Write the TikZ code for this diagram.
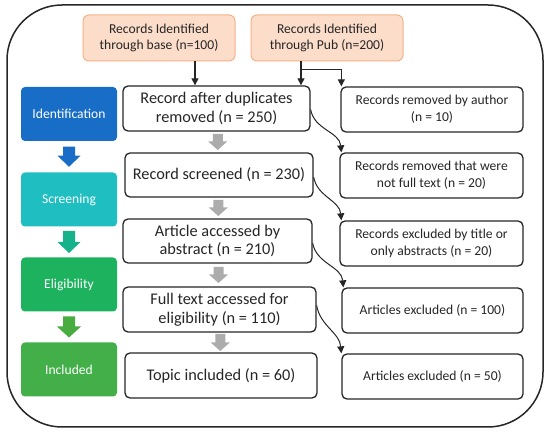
\documentclass[tikz,border=0pt]{standalone}
\usepackage{fontspec}
\setmainfont{Carlito}
\usetikzlibrary{calc,arrows.meta}
\definecolor{boxline}{RGB}{38,38,38}
\definecolor{txt}{RGB}{38,38,38}
\definecolor{orfill}{RGB}{252,221,202}
\definecolor{orline}{RGB}{244,178,135}
\definecolor{cident}{RGB}{24,110,198}
\definecolor{cscreen}{RGB}{31,190,193}
\definecolor{carrowtwo}{RGB}{22,178,140}
\definecolor{celig}{RGB}{28,178,94}
\definecolor{carrowthree}{RGB}{72,172,64}
\definecolor{cincl}{RGB}{66,175,73}
\definecolor{cgray}{RGB}{172,172,172}
% block arrow between two nodes: from, to, colour, half length, half shaft, half head, head length
\newcommand\blkarrow[7]{%
  \fill[#3] ($(#1.south)!0.5!(#2.north)+(-#5,#4)$) -- ($(#1.south)!0.5!(#2.north)+(#5,#4)$)
    -- ($(#1.south)!0.5!(#2.north)+(#5,-#4+#7)$) -- ($(#1.south)!0.5!(#2.north)+(#6,-#4+#7)$)
    -- ($(#1.south)!0.5!(#2.north)+(0,-#4)$) -- ($(#1.south)!0.5!(#2.north)+(-#6,-#4+#7)$)
    -- ($(#1.south)!0.5!(#2.north)+(-#5,-#4+#7)$) -- cycle;}
\begin{document}
\begin{tikzpicture}[x=1pt,y=1pt,
  box/.style={draw=boxline,line width=1.3pt,rounded corners=5pt,fill=white,align=center,inner sep=1pt,text=txt},
  mid/.style={box,font=\fontsize{16.3}{18.5}\selectfont},
  side/.style={box,font=\fontsize{13.6}{16.8}\selectfont},
  src/.style={draw=orline,fill=orfill,line width=1pt,rounded corners=6pt,align=center,inner sep=1pt,text=txt,font=\fontsize{13.6}{16.8}\selectfont},
  stage/.style={rounded corners=4pt,text=white,inner sep=1pt,align=center,minimum width=96pt,minimum height=54pt,font=\fontsize{13.6}{16.8}\selectfont},
  arr/.style={-{Triangle[length=7pt,width=7pt]},line width=1.1pt,draw=boxline},
  carr/.style={arr,line width=1pt}
]
\useasboundingbox (0,0) rectangle (550,-433);
\node[draw=boxline,line width=1.5pt,rounded corners=55pt,minimum width=536pt,minimum height=422pt] (frame) at (275,-216) {};

\node[src,minimum width=152pt,minimum height=46pt] (o1) at (159,-38) {Records Identified\\through base (n=100)};
\node[src,minimum width=152pt,minimum height=46pt] (o2) at (327,-38) {Records Identified\\through Pub (n=200)};

\node[stage,fill=cident] (ident) at (69,-114) {Identification};
\node[stage,fill=cscreen] (screen) at (69,-199.5) {Screening};
\node[stage,fill=celig] (elig) at (69,-284.5) {Eligibility};
\node[stage,fill=cincl] (incl) at (69,-369.5) {Included};

\node[mid,minimum width=187pt,minimum height=45pt] (m1) at (216.5,-108.5) {Record after duplicates\\removed (n = 250)};
\node[mid,minimum width=188pt,minimum height=44pt] (m2) at (219,-175) {Record screened (n = 230)};
\node[mid,minimum width=189pt,minimum height=44pt] (m3) at (217.5,-241) {Article accessed by\\abstract (n = 210)};
\node[mid,minimum width=193pt,minimum height=45pt] (m4) at (219.5,-309.5) {Full text accessed for\\eligibility (n = 110)};
\node[mid,minimum width=192pt,minimum height=45pt] (m5) at (221,-375.5) {Topic included (n = 60)};

\node[side,minimum width=182pt,minimum height=45pt] (r1) at (432,-109.5) {Records removed by author\\(n = 10)};
\node[side,minimum width=183pt,minimum height=45pt] (r2) at (431.5,-175.5) {Records removed that were\\not full text (n = 20)};
\node[side,minimum width=183pt,minimum height=45pt] (r3) at (431.5,-243.5) {Records excluded by title or\\only abstracts (n = 20)};
\node[side,minimum width=181pt,minimum height=45pt] (r4) at (432.5,-310.5) {Articles excluded (n = 100)};
\node[side,minimum width=181pt,minimum height=45pt] (r5) at (432.5,-376.5) {Articles excluded (n = 50)};

% source arrows
\draw[arr] ([xshift=36pt]o1.south) -- ([xshift=36pt]o1.south |- m1.north);
\draw[arr] ([xshift=-26pt]o2.south) -- ([xshift=-26pt]o2.south |- m1.north);
\draw[arr] ([xshift=-26pt,yshift=-8pt]o2.south) -| ([xshift=1pt]r1.north west);

% curved exclusion arrows
\draw[carr] ([yshift=-1pt]m1.east) to[out=-80,in=95] ([xshift=2pt]r2.north west);
\draw[carr] ([yshift=-2pt]m2.east) to[out=-80,in=95] ([xshift=2pt]r3.north west);
\draw[carr] ([yshift=-2pt]m3.east) to[out=-80,in=95] ([xshift=2pt]r4.north west);
\draw[carr] ([yshift=4pt]m4.east) to[out=-80,in=95] ([xshift=0pt]r5.north west);

% grey block arrows
\blkarrow{m1}{m2}{cgray}{8}{5}{9.5}{8.5}
\blkarrow{m2}{m3}{cgray}{8}{5}{9.5}{8.5}
\blkarrow{m3}{m4}{cgray}{8}{5}{9.5}{8.5}
\blkarrow{m4}{m5}{cgray}{8.5}{5}{9.5}{8.5}

% stage arrows
\blkarrow{ident}{screen}{cident}{10}{6}{11.5}{11}
\blkarrow{screen}{elig}{carrowtwo}{11}{6}{11.5}{11}
\blkarrow{elig}{incl}{carrowthree}{10.5}{6}{12}{11}
\end{tikzpicture}
\end{document}
